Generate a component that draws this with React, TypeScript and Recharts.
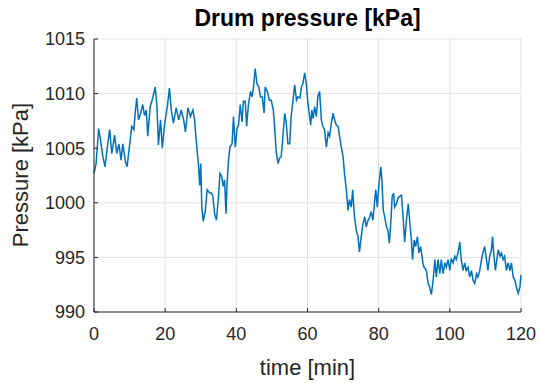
import { LineChart, Line, XAxis, YAxis, CartesianGrid } from "recharts";

// drum pressure trace
const timeMin = [
  0, 0.6, 1.3, 1.8, 2.5, 3.1, 3.7, 4.4, 5.0, 5.8,
  6.4, 7.0, 7.6, 8.1, 8.8, 9.3, 9.9, 10.6, 11.2, 11.6,
  12.0, 12.5, 13.1, 13.7, 14.2, 14.7, 15.1, 15.8, 16.5, 17.2,
  17.7, 18.1, 18.7, 19.2, 19.8, 20.6, 21.2, 21.7, 22.3, 23.1,
  23.8, 24.5, 25.2, 25.7, 26.4, 27.1, 27.8, 28.3, 28.7, 29.4,
  29.7, 30.0, 30.3, 30.7, 31.3, 31.8, 32.5, 33.0, 33.4, 33.9,
  34.4, 35.0, 35.4, 35.9, 36.3, 36.7, 37.1, 37.4, 37.8, 38.2,
  38.8, 39.2, 39.7, 40.2, 40.6, 41.1, 41.6, 42.0, 42.5, 42.9,
  43.4, 44.0, 44.4, 44.8, 45.3, 45.8, 46.3, 46.8, 47.3, 47.8,
  48.1, 48.7, 49.3, 49.8, 50.4, 50.8, 51.2, 51.7, 52.2, 52.6,
  53.1, 53.6, 54.0, 54.5, 55.0, 55.4, 55.9, 56.4, 56.9, 57.3,
  57.9, 58.3, 58.7, 59.2, 59.7, 60.1, 60.6, 60.9, 61.2, 61.6,
  62.0, 62.5, 62.9, 63.4, 63.9, 64.3, 64.8, 65.3, 65.8, 66.2,
  66.7, 67.2, 67.6, 68.1, 68.6, 69.0, 69.5, 70.0, 70.4, 70.9,
  71.4, 71.8, 72.3, 72.7, 73.2, 73.7, 74.2, 74.6, 75.1, 75.6,
  76.1, 76.5, 77.0, 77.5, 77.9, 78.4, 78.9, 79.2, 79.6, 80.1,
  80.6, 80.9, 81.3, 81.7, 82.2, 82.6, 83.0, 83.4, 83.8, 84.2,
  84.5, 85.0, 85.4, 85.9, 86.4, 86.8, 87.3, 87.8, 88.3, 88.7,
  89.2, 89.5, 90.0, 90.4, 90.9, 91.3, 91.8, 92.3, 92.6, 93.4,
  93.9, 94.3, 94.8, 95.3, 95.8, 96.2, 96.7, 97.2, 97.6, 98.1,
  98.6, 99.0, 99.5, 100.0, 100.4, 100.9, 101.4, 101.8, 102.3, 102.8,
  103.2, 103.7, 104.2, 104.6, 105.1, 105.6, 106.1, 106.5, 107.0, 107.5,
  107.9, 108.4, 108.9, 109.3, 109.8, 110.3, 110.7, 111.2, 111.7, 112.0,
  112.4, 112.8, 113.2, 113.6, 114.1, 114.5, 115.0, 115.4, 115.9, 116.4,
  116.9, 117.3, 117.8, 118.3, 118.7, 119.2, 119.7, 120.0,
];

const pressureKpa = [
  1002.7, 1003.6, 1006.8, 1005.8, 1004.2, 1003.3, 1005.0, 1006.7, 1004.5, 1006.2,
  1004.5, 1005.4, 1003.9, 1005.4, 1003.8, 1003.3, 1005.0, 1007.0, 1006.7, 1008.3,
  1009.6, 1007.6, 1008.2, 1009.0, 1008.0, 1008.5, 1006.1, 1008.8, 1009.6, 1010.6,
  1008.8, 1005.3, 1007.6, 1005.0, 1007.1, 1008.8, 1010.5, 1008.5, 1007.3, 1008.7,
  1007.6, 1008.5, 1007.6, 1006.5, 1008.7, 1007.9, 1008.5, 1007.5, 1005.8, 1003.3,
  1001.6, 1003.6, 999.6, 998.3, 999.3, 1001.2, 1000.9, 1000.9, 1000.6, 999.0,
  998.4, 1000.6, 1002.7, 1002.4, 1001.5, 1002.1, 999.0, 1001.8, 1003.9, 1005.1,
  1005.4, 1007.9, 1005.1, 1006.8, 1007.1, 1009.0, 1007.4, 1009.3, 1009.3, 1007.0,
  1009.0, 1010.2, 1009.7, 1010.5, 1012.3, 1010.9, 1010.6, 1009.7, 1009.7, 1008.2,
  1010.6, 1010.2, 1009.4, 1009.4, 1008.5, 1006.7, 1004.7, 1003.6, 1004.1, 1004.2,
  1006.1, 1008.2, 1007.4, 1005.4, 1005.4, 1007.9, 1009.3, 1010.8, 1009.4, 1009.7,
  1009.6, 1010.6, 1010.9, 1011.9, 1010.8, 1009.2, 1007.9, 1007.1, 1008.5, 1007.7,
  1008.8, 1007.9, 1009.7, 1010.2, 1007.6, 1007.0, 1006.7, 1005.1, 1006.4, 1006.1,
  1007.3, 1008.2, 1007.6, 1007.1, 1007.0, 1006.1, 1005.1, 1004.2, 1002.7, 1001.2,
  999.3, 1000.3, 999.6, 1001.2, 998.7, 997.5, 996.9, 995.5, 996.9, 998.1,
  998.7, 997.8, 998.4, 998.7, 999.2, 998.4, 1000.3, 1001.2, 999.6, 1001.8,
  1003.3, 1002.1, 999.3, 998.7, 997.8, 997.5, 996.3, 998.1, 1000.6, 1000.9,
  999.6, 999.9, 1000.4, 1000.6, 1000.7, 999.0, 996.4, 998.4, 999.9, 998.4,
  996.6, 994.8, 996.6, 996.0, 996.9, 995.4, 996.0, 994.8, 994.2, 993.8,
  992.6, 992.3, 991.6, 992.9, 994.8, 993.2, 994.8, 993.5, 994.8, 993.5,
  994.5, 994.1, 994.8, 993.8, 994.9, 994.5, 995.1, 994.8, 995.4, 996.4,
  994.8, 993.8, 994.5, 993.8, 994.1, 993.2, 993.8, 992.9, 992.6, 993.5,
  993.2, 993.8, 994.8, 995.4, 996.0, 994.8, 993.8, 995.1, 995.7, 996.9,
  995.1, 993.8, 994.8, 995.7, 995.1, 995.4, 994.8, 995.1, 993.8, 994.5,
  993.8, 994.5, 993.2, 992.9, 992.3, 991.7, 992.3, 993.4,
];

const xTicks = [0, 20, 40, 60, 80, 100, 120];
const yTicks = [990, 995, 1000, 1005, 1010, 1015];

const FONT = '"Liberation Sans", Arial, Helvetica, sans-serif';
const AXIS = "#262626";

export default function App() {
  const data = timeMin.map((t, i) => ({ t, p: pressureKpa[i] }));
  const tickStyle = { fill: AXIS, fontSize: 18, fontFamily: FONT };

  return (
    <div style={{ position: "relative", width: 539, height: 383, background: "#fff" }}>
      <style>{"body{margin:0}"}</style>
      <LineChart
        width={539}
        height={383}
        data={data}
        margin={{ top: 39, right: 18, bottom: 31, left: 34 }}
      >
        <CartesianGrid stroke="#e2e2e2" />
        <XAxis
          dataKey="t"
          type="number"
          domain={[0, 120]}
          ticks={xTicks}
          height={40}
          tick={tickStyle}
          tickSize={-4}
          tickMargin={19}
          stroke={AXIS}
        />
        <XAxis
          xAxisId="top"
          orientation="top"
          type="number"
          domain={[0, 120]}
          ticks={xTicks}
          allowDataOverflow
          height={0}
          tick={false}
          tickSize={-4}
          stroke={AXIS}
        />
        <YAxis
          type="number"
          domain={[990, 1015]}
          ticks={yTicks}
          width={60}
          tick={tickStyle}
          tickSize={-4}
          tickMargin={13}
          stroke={AXIS}
        />
        <YAxis
          yAxisId="right"
          orientation="right"
          type="number"
          domain={[990, 1015]}
          ticks={yTicks}
          allowDataOverflow
          width={0}
          tick={false}
          tickSize={-4}
          stroke={AXIS}
        />
        <Line
          dataKey="p"
          type="linear"
          stroke="#0072BD"
          strokeWidth={1.5}
          dot={false}
          isAnimationActive={false}
        />
      </LineChart>
      <svg
        width={539}
        height={383}
        style={{ position: "absolute", left: 0, top: 0, pointerEvents: "none" }}
      >
        <text
          x={307.5}
          y={26}
          textAnchor="middle"
          fontFamily={FONT}
          fontWeight="bold"
          fontSize={23}
          fill="#000"
        >
          Drum pressure [kPa]
        </text>
        <text
          x={307.5}
          y={375}
          textAnchor="middle"
          fontFamily={FONT}
          fontSize={22}
          fill={AXIS}
        >
          time [min]
        </text>
        <text
          transform="translate(28,175) rotate(-90)"
          textAnchor="middle"
          fontFamily={FONT}
          fontSize={22}
          fill={AXIS}
        >
          Pressure [kPa]
        </text>
      </svg>
    </div>
  );
}
